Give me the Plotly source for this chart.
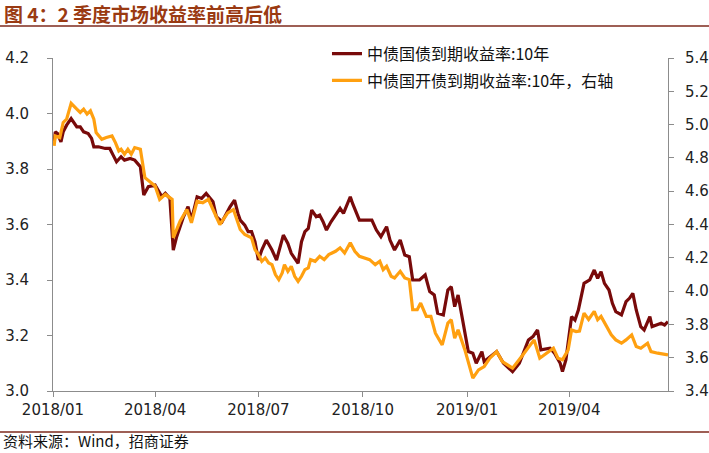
import plotly.graph_objects as go

# ---------------- data ----------------
gz_dates = [
    "2018-01-02", "2018-01-03", "2018-01-05", "2018-01-08", "2018-01-10", "2018-01-13", "2018-01-17",
    "2018-01-22", "2018-01-25", "2018-01-28", "2018-02-01", "2018-02-04", "2018-02-06", "2018-02-10",
    "2018-02-16", "2018-02-20", "2018-02-23", "2018-02-26", "2018-03-02", "2018-03-05", "2018-03-10",
    "2018-03-14", "2018-03-19", "2018-03-22", "2018-03-26", "2018-04-01", "2018-04-07", "2018-04-10",
    "2018-04-14", "2018-04-17", "2018-04-20", "2018-04-26", "2018-04-30", "2018-05-03", "2018-05-08",
    "2018-05-12", "2018-05-16", "2018-05-22", "2018-05-25", "2018-05-30", "2018-06-06", "2018-06-10",
    "2018-06-13", "2018-06-15", "2018-06-19", "2018-06-22", "2018-06-25", "2018-06-28", "2018-07-01",
    "2018-07-04", "2018-07-08", "2018-07-13", "2018-07-17", "2018-07-20", "2018-07-23", "2018-07-27",
    "2018-07-30", "2018-08-02", "2018-08-05", "2018-08-08", "2018-08-11", "2018-08-14", "2018-08-17",
    "2018-08-21", "2018-08-24", "2018-08-27", "2018-08-30", "2018-09-03", "2018-09-08", "2018-09-11",
    "2018-09-14", "2018-09-20", "2018-09-22", "2018-09-28", "2018-10-09", "2018-10-13", "2018-10-17",
    "2018-10-22", "2018-10-25", "2018-10-29", "2018-11-03", "2018-11-07", "2018-11-11", "2018-11-14",
    "2018-11-20", "2018-11-25", "2018-11-29", "2018-12-03", "2018-12-06", "2018-12-11", "2018-12-15",
    "2018-12-18", "2018-12-21", "2018-12-24", "2018-12-28", "2019-01-02", "2019-01-06", "2019-01-09",
    "2019-01-14", "2019-01-16", "2019-01-27", "2019-02-02", "2019-02-10", "2019-02-16", "2019-02-24",
    "2019-02-28", "2019-03-04", "2019-03-07", "2019-03-15", "2019-03-19", "2019-03-24", "2019-03-26",
    "2019-03-29", "2019-04-03", "2019-04-06", "2019-04-09", "2019-04-11", "2019-04-14", "2019-04-19",
    "2019-04-23", "2019-04-26", "2019-04-29", "2019-05-02", "2019-05-06", "2019-05-09", "2019-05-12",
    "2019-05-17", "2019-05-21", "2019-05-24", "2019-05-27", "2019-05-30", "2019-06-03", "2019-06-06",
    "2019-06-11", "2019-06-13", "2019-06-18", "2019-06-21", "2019-06-24", "2019-06-27",
]
gz_values = [
    3.893, 3.934, 3.928, 3.898, 3.934, 3.958, 3.982,
    3.952, 3.952, 3.934, 3.928, 3.910, 3.880, 3.880,
    3.874, 3.874, 3.850, 3.826, 3.844, 3.832, 3.838,
    3.832, 3.808, 3.706, 3.736, 3.742, 3.700, 3.712,
    3.694, 3.508, 3.556, 3.628, 3.664, 3.616, 3.700,
    3.694, 3.712, 3.682, 3.628, 3.610, 3.664, 3.688,
    3.640, 3.616, 3.598, 3.574, 3.574, 3.538, 3.472,
    3.508, 3.544, 3.508, 3.472, 3.520, 3.562, 3.532,
    3.496, 3.478, 3.460, 3.538, 3.574, 3.586, 3.652,
    3.628, 3.634, 3.610, 3.580, 3.610, 3.640, 3.658,
    3.640, 3.700, 3.676, 3.616, 3.616, 3.580, 3.556,
    3.592, 3.544, 3.508, 3.544, 3.490, 3.484, 3.400,
    3.400, 3.418, 3.358, 3.346, 3.280, 3.274, 3.364,
    3.376, 3.304, 3.346, 3.256, 3.142, 3.136, 3.100,
    3.142, 3.106, 3.142, 3.100, 3.070, 3.100, 3.184,
    3.196, 3.220, 3.148, 3.154, 3.136, 3.100, 3.070,
    3.112, 3.268, 3.256, 3.292, 3.330, 3.388, 3.400,
    3.436, 3.406, 3.430, 3.388, 3.364, 3.316, 3.286,
    3.274, 3.322, 3.334, 3.352, 3.292, 3.232, 3.220,
    3.268, 3.232, 3.238, 3.244, 3.238, 3.250,
]

gk_dates = [
    "2018-01-02", "2018-01-03", "2018-01-07", "2018-01-10", "2018-01-13", "2018-01-17", "2018-01-22",
    "2018-01-25", "2018-01-28", "2018-01-31", "2018-02-03", "2018-02-06", "2018-02-08", "2018-02-13",
    "2018-02-17", "2018-02-22", "2018-02-25", "2018-02-28", "2018-03-02", "2018-03-05", "2018-03-08",
    "2018-03-11", "2018-03-14", "2018-03-19", "2018-03-23", "2018-03-27", "2018-04-01", "2018-04-05",
    "2018-04-10", "2018-04-16", "2018-04-17", "2018-04-23", "2018-04-29", "2018-05-03", "2018-05-08",
    "2018-05-13", "2018-05-18", "2018-05-22", "2018-05-28", "2018-06-04", "2018-06-09", "2018-06-15",
    "2018-06-19", "2018-06-25", "2018-06-28", "2018-07-01", "2018-07-04", "2018-07-07", "2018-07-10",
    "2018-07-13", "2018-07-16", "2018-07-19", "2018-07-22", "2018-07-24", "2018-07-27", "2018-07-30",
    "2018-08-02", "2018-08-05", "2018-08-08", "2018-08-11", "2018-08-14", "2018-08-16", "2018-08-20",
    "2018-08-24", "2018-08-28", "2018-09-01", "2018-09-07", "2018-09-11", "2018-09-15", "2018-09-20",
    "2018-09-24", "2018-09-28", "2018-10-07", "2018-10-12", "2018-10-16", "2018-10-19", "2018-10-22",
    "2018-10-26", "2018-10-29", "2018-11-03", "2018-11-07", "2018-11-11", "2018-11-14", "2018-11-18",
    "2018-11-21", "2018-11-26", "2018-11-30", "2018-12-04", "2018-12-10", "2018-12-15", "2018-12-18",
    "2018-12-21", "2018-12-24", "2018-12-30", "2019-01-02", "2019-01-06", "2019-01-11", "2019-01-16",
    "2019-01-21", "2019-01-27", "2019-02-01", "2019-02-10", "2019-02-18", "2019-02-25", "2019-03-01",
    "2019-03-06", "2019-03-18", "2019-03-22", "2019-03-26", "2019-03-31", "2019-04-03", "2019-04-07",
    "2019-04-10", "2019-04-14", "2019-04-18", "2019-04-23", "2019-04-26", "2019-04-29", "2019-05-03",
    "2019-05-08", "2019-05-12", "2019-05-17", "2019-05-21", "2019-05-26", "2019-05-30", "2019-06-03",
    "2019-06-09", "2019-06-12", "2019-06-18", "2019-06-27",
]
gk_values = [
    4.872, 4.932, 4.922, 5.013, 5.033, 5.128, 5.093,
    5.073, 5.093, 5.063, 5.083, 5.033, 4.952, 4.912,
    4.922, 4.932, 4.892, 4.842, 4.852, 4.822, 4.852,
    4.822, 4.862, 4.852, 4.681, 4.661, 4.631, 4.551,
    4.581, 4.551, 4.320, 4.420, 4.490, 4.410, 4.540,
    4.531, 4.551, 4.490, 4.400, 4.470, 4.490, 4.370,
    4.340, 4.320, 4.249, 4.219, 4.179, 4.199, 4.169,
    4.159, 4.099, 4.069, 4.109, 4.159, 4.119, 4.149,
    4.089, 4.058, 4.089, 4.129, 4.139, 4.189, 4.179,
    4.209, 4.189, 4.219, 4.239, 4.260, 4.229, 4.290,
    4.239, 4.209, 4.189, 4.159, 4.179, 4.129, 4.149,
    4.089, 4.079, 4.119, 4.079, 4.069, 3.888, 3.888,
    3.928, 3.848, 3.848, 3.747, 3.677, 3.808, 3.828,
    3.717, 3.767, 3.647, 3.577, 3.477, 3.527, 3.547,
    3.597, 3.637, 3.577, 3.537, 3.607, 3.667, 3.707,
    3.597, 3.657, 3.597, 3.587, 3.647, 3.767, 3.757,
    3.760, 3.868, 3.830, 3.878, 3.828, 3.848, 3.798,
    3.737, 3.707, 3.687, 3.707, 3.737, 3.667, 3.657,
    3.687, 3.637, 3.627, 3.617,
]

series_names = ["中债国债到期收益率:10年", "中债国开债到期收益率:10年，右轴"]
series_colors = ["#780a0a", "#ffa010"]
left_ticks = [3.0, 3.2, 3.4, 3.6, 3.8, 4.0, 4.2]
right_ticks = [3.4, 3.6, 3.8, 4.0, 4.2, 4.4, 4.6, 4.8, 5.0, 5.2, 5.4]
x_ticks = ["2018-01-01", "2018-04-01", "2018-07-01", "2018-10-01", "2019-01-01", "2019-04-01"]
x_ticklabels = ["2018/01", "2018/04", "2018/07", "2018/10", "2019/01", "2019/04"]

title_text = "图 4：2 季度市场收益率前高后低"
source_text = "资料来源：Wind，招商证券"

# ---------------- figure ----------------
fig = go.Figure()
fig.add_trace(go.Scatter(
    x=gz_dates, y=gz_values, name=series_names[0], mode="lines",
    line=dict(color=series_colors[0], width=3.2), legendgroup="a", yaxis="y",
))
fig.add_trace(go.Scatter(
    x=gk_dates, y=gk_values, name=series_names[1], mode="lines",
    line=dict(color=series_colors[1], width=3.2), legendgroup="b", yaxis="y2",
))

tick_font = dict(family="DejaVu Sans, sans-serif", size=15, color="#222222")
axis_color = "#8c8c8c"

fig.update_layout(
    template="none",
    width=709, height=453,
    margin=dict(l=53, r=41, t=58, b=62, autoexpand=False),
    paper_bgcolor="white", plot_bgcolor="white",
    showlegend=True,
    legend=dict(
        x=0.4455, y=1.064, xanchor="left", yanchor="top",
        font=dict(family="Noto Sans CJK SC, sans-serif", size=16, color="#111111"),
        bgcolor="rgba(255,255,255,0)", tracegroupgap=3, itemwidth=30,
    ),
    xaxis=dict(
        type="date", range=["2018-01-01", "2019-06-27"], automargin=False,
        tickvals=x_ticks, ticktext=x_ticklabels,
        showgrid=False, zeroline=False,
        showline=True, linecolor=axis_color, linewidth=1,
        ticks="outside", ticklen=5, tickcolor=axis_color,
        tickfont=tick_font,
    ),
    yaxis=dict(
        range=[3.0, 4.2], tickvals=left_ticks, tickformat=".1f", automargin=False,
        showgrid=False, zeroline=False,
        showline=True, linecolor=axis_color, linewidth=1,
        ticks="outside", ticklen=5, tickcolor=axis_color,
        tickfont=tick_font, ticklabelstandoff=15,
    ),
    yaxis2=dict(
        range=[3.4, 5.4], tickvals=right_ticks, tickformat=".1f", automargin=False,
        overlaying="y", side="right",
        showgrid=False, zeroline=False,
        showline=True, linecolor=axis_color, linewidth=1,
        ticks="outside", ticklen=5, tickcolor=axis_color,
        tickfont=tick_font, ticklabelstandoff=8,
    ),
)

# title, rules, source
fig.add_annotation(
    text="<b>" + title_text + "</b>", xref="paper", yref="paper",
    x=-0.0830, y=1.135, xanchor="left", yanchor="middle", showarrow=False,
    font=dict(family="Noto Sans CJK SC, sans-serif", size=19, color="#9a3a12"),
)
fig.add_shape(type="line", xref="paper", yref="paper",
              x0=-0.0862, x1=1.0667, y0=1.096, y1=1.096,
              line=dict(color="#7e2a1c", width=1.5))
fig.add_shape(type="line", xref="paper", yref="paper",
              x0=-0.0862, x1=1.0667, y0=-0.1231, y1=-0.1231,
              line=dict(color="#7e2a1c", width=1.5))
fig.add_annotation(
    text=source_text, xref="paper", yref="paper",
    x=-0.0830, y=-0.1830, xanchor="left", yanchor="bottom", showarrow=False,
    borderpad=0,
    font=dict(family="Noto Sans CJK SC, sans-serif", size=15, color="#111111"),
)

fig.write_html("out.html")
